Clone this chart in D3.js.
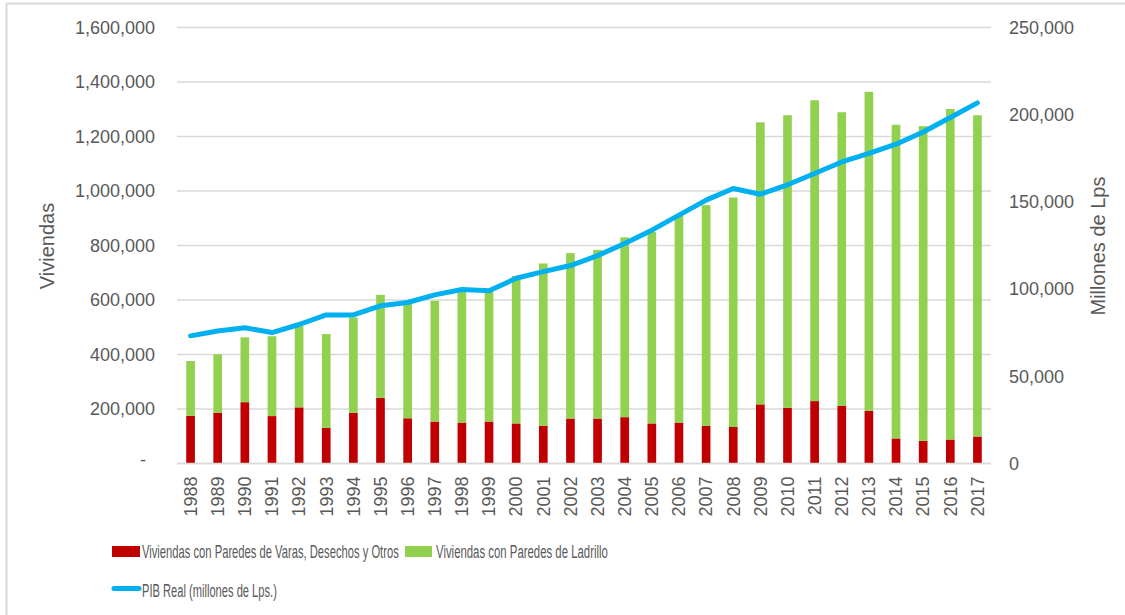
<!DOCTYPE html>
<html>
<head>
<meta charset="utf-8">
<script src="https://cdn.jsdelivr.net/npm/d3@7"></script>
<style>
  html, body { margin: 0; padding: 0; background: #fff; }
  svg { display: block; font-family: "Liberation Sans", Arial, sans-serif; }
</style>
</head>
<body>
<svg id="chart" width="1125" height="615"></svg>
<script>
const years = [1988,1989,1990,1991,1992,1993,1994,1995,1996,1997,1998,1999,2000,2001,2002,2003,2004,2005,2006,2007,2008,2009,2010,2011,2012,2013,2014,2015,2016,2017];
const varas = [175000,186000,225000,174000,206000,131000,186000,241000,166000,154000,150000,154000,147000,138000,165000,165000,170000,147000,150000,138000,134000,217000,204000,229000,211000,193000,92000,83000,88000,99000];
const ladrillo = [201000,215000,238000,293000,298000,344000,350000,378000,419000,443000,479000,476000,541000,596000,607000,619000,660000,703000,759000,810000,842000,1035000,1074000,1104000,1078000,1171000,1151000,1155000,1213000,1179000];
const pib = [73200,76000,77800,75100,79700,85200,85200,90400,92300,96700,99800,99000,106200,110000,113500,119200,126100,133800,142400,151000,157700,154400,159800,166300,172900,177800,183100,190100,198400,206800];
const leftTicks = [0,200000,400000,600000,800000,1000000,1200000,1400000,1600000];
const rightTicks = [0,50000,100000,150000,200000,250000];
const seriesNames = ["Viviendas con Paredes de Varas, Desechos y Otros","Viviendas con Paredes de Ladrillo","PIB Real (millones de Lps.)"];
const colors = ["#c00000","#92d050","#00b0f0"];

const svg = d3.select("#chart");
const textColor = "#595959";
const gridColor = "#d9d9d9";

// outer border (only top/left visible in reference)
svg.append("rect").attr("x",6.5).attr("y",3.5).attr("width",1130).attr("height",620)
  .attr("fill","none").attr("stroke","#d9d9d9").attr("stroke-width",2);

const x0 = 177, x1 = 991, yTop = 27.5, yBot = 463.5;
const x = d3.scaleBand().domain(years).range([x0,x1]).paddingInner(0.68).paddingOuter(0.34);
const yL = d3.scaleLinear().domain([0,1600000]).range([yBot,yTop]);
const yR = d3.scaleLinear().domain([0,250000]).range([yBot,yTop]);

// gridlines
svg.append("g").selectAll("line").data(leftTicks).join("line")
  .attr("x1",x0).attr("x2",x1).attr("y1",d=>yL(d)).attr("y2",d=>yL(d))
  .attr("stroke",gridColor).attr("stroke-width",1.5);

// left axis
const fmt = d3.format(",");
const gl = svg.append("g").attr("transform",`translate(${x0-22},0)`)
  .call(d3.axisLeft(yL).tickValues(leftTicks).tickSize(0).tickPadding(0).tickFormat(d=> d===0 ? "-" : fmt(d)));
gl.select(".domain").remove();
gl.selectAll("text").attr("fill",textColor).style("font-size","18px").style("font-family","Liberation Sans, Arial, sans-serif");
gl.selectAll(".tick").filter(d=>d===0).select("text").attr("x",-9).attr("dy","0.1em");

// right axis
const gr = svg.append("g").attr("transform",`translate(${x1+18},0)`)
  .call(d3.axisRight(yR).tickValues(rightTicks).tickSize(0).tickPadding(0).tickFormat(fmt));
gr.select(".domain").remove();
gr.selectAll("text").attr("fill",textColor).style("font-size","18px").style("font-family","Liberation Sans, Arial, sans-serif");

// stacked bars
const rows = years.map((yr,i)=>({year:yr, varas:varas[i], ladrillo:ladrillo[i]}));
const stack = d3.stack().keys(["varas","ladrillo"])(rows);
svg.append("g").selectAll("g").data(stack).join("g")
  .attr("fill",(d,i)=>colors[i])
  .selectAll("rect").data(d=>d).join("rect")
  .attr("x",d=>x(d.data.year)).attr("width",x.bandwidth())
  .attr("y",d=>yL(d[1])).attr("height",d=>yL(d[0])-yL(d[1]));

// bottom axis
const gb = svg.append("g").attr("transform",`translate(0,${yBot})`)
  .call(d3.axisBottom(x).tickSize(0).tickPadding(0));
gb.select(".domain").attr("stroke",gridColor).attr("stroke-width",1.5).attr("d",`M${x0},0H${x1}`);
gb.selectAll("text").attr("fill",textColor).style("font-size","18px").style("font-family","Liberation Sans, Arial, sans-serif")
  .attr("transform","rotate(-90)").attr("text-anchor","end").attr("x",-13).attr("y",0).attr("dy","0.35em");

// PIB line
const line = d3.line().x((d,i)=>x(years[i])+x.bandwidth()/2).y(d=>yR(d));
svg.append("path").datum(pib).attr("d",line).attr("fill","none")
  .attr("stroke",colors[2]).attr("stroke-width",5).attr("stroke-linecap","round").attr("stroke-linejoin","round");

// axis titles
svg.append("text").attr("transform","translate(54,246) rotate(-90)").attr("text-anchor","middle")
  .attr("fill",textColor).style("font-size","20px").text("Viviendas");
svg.append("text").attr("transform","translate(1105,246) rotate(-90)").attr("text-anchor","middle")
  .attr("fill",textColor).style("font-size","20px").text("Millones de Lps");

// legend (text condensed horizontally as in reference)
const lg = svg.append("g");
function legendText(tx, ty, target, label) {
  const g = lg.append("g");
  const t = g.append("text").attr("x",0).attr("y",0).attr("dy","0.35em").attr("fill",textColor)
    .style("font-size","18px").text(label);
  const natural = t.node().getComputedTextLength();
  g.attr("transform",`translate(${tx},${ty}) scale(${target/natural},1)`);
}
lg.append("rect").attr("x",112).attr("y",546).attr("width",28).attr("height",11).attr("fill",colors[0]);
legendText(142, 552, 257, seriesNames[0]);
lg.append("rect").attr("x",405).attr("y",546).attr("width",27).attr("height",11).attr("fill",colors[1]);
legendText(436, 552, 172, seriesNames[1]);
lg.append("line").attr("x1",114).attr("x2",139).attr("y1",588.5).attr("y2",588.5)
  .attr("stroke",colors[2]).attr("stroke-width",5).attr("stroke-linecap","round");
legendText(142, 591, 135, seriesNames[2]);
</script>
</body>
</html>
